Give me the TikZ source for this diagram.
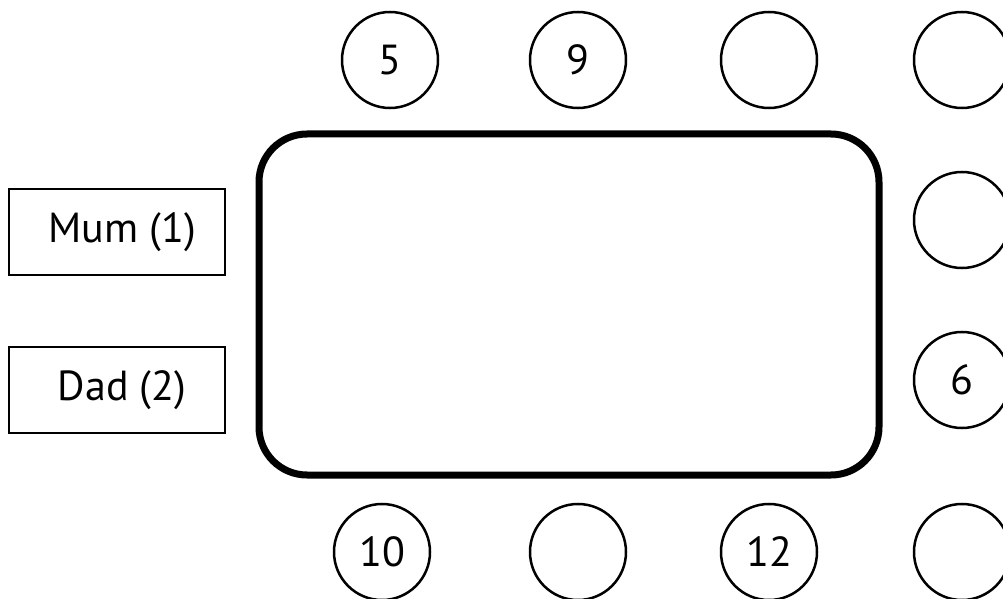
\documentclass[tikz,border=0pt]{standalone}
\usepackage{fontspec}
\setmainfont{PT Sans}

\begin{document}
\begin{tikzpicture}[x=0.5pt,y=-0.5pt,
  seat/.style={draw,circle,line width=1.25pt,minimum size=48pt,inner sep=0pt,font=\fontsize{21}{25}\selectfont},
  namebox/.style={draw,rectangle,line width=1pt,minimum width=108pt,minimum height=43pt,inner sep=0pt,font=\fontsize{21}{25}\selectfont},
  tablebox/.style={draw,rectangle,line width=3.5pt,rounded corners=24pt,minimum width=310pt,minimum height=170.5pt}]
\useasboundingbox (0,0) rectangle (1003,599);
\node[tablebox] (table) at (569,304.5) {};
\node[namebox] (mum) at (117,232) {\hspace{5pt}Mum (1)};
\node[namebox] (dad) at (117,390) {\hspace{5pt}Dad (2)};
% seats round the table
\foreach \i/\x/\t in {1/390/5,2/578/9,3/769/{},4/962/{}}
  \node[seat] (top\i) at (\x,60) {\t};
\foreach \i/\y/\t in {1/220/{},2/380/6}
  \node[seat] (right\i) at (962,\y) {\t};
\foreach \i/\x/\t in {1/382/10,2/578/{},3/769/12,4/962/{}}
  \node[seat] (bottom\i) at (\x,552) {\t};
\end{tikzpicture}
\end{document}
